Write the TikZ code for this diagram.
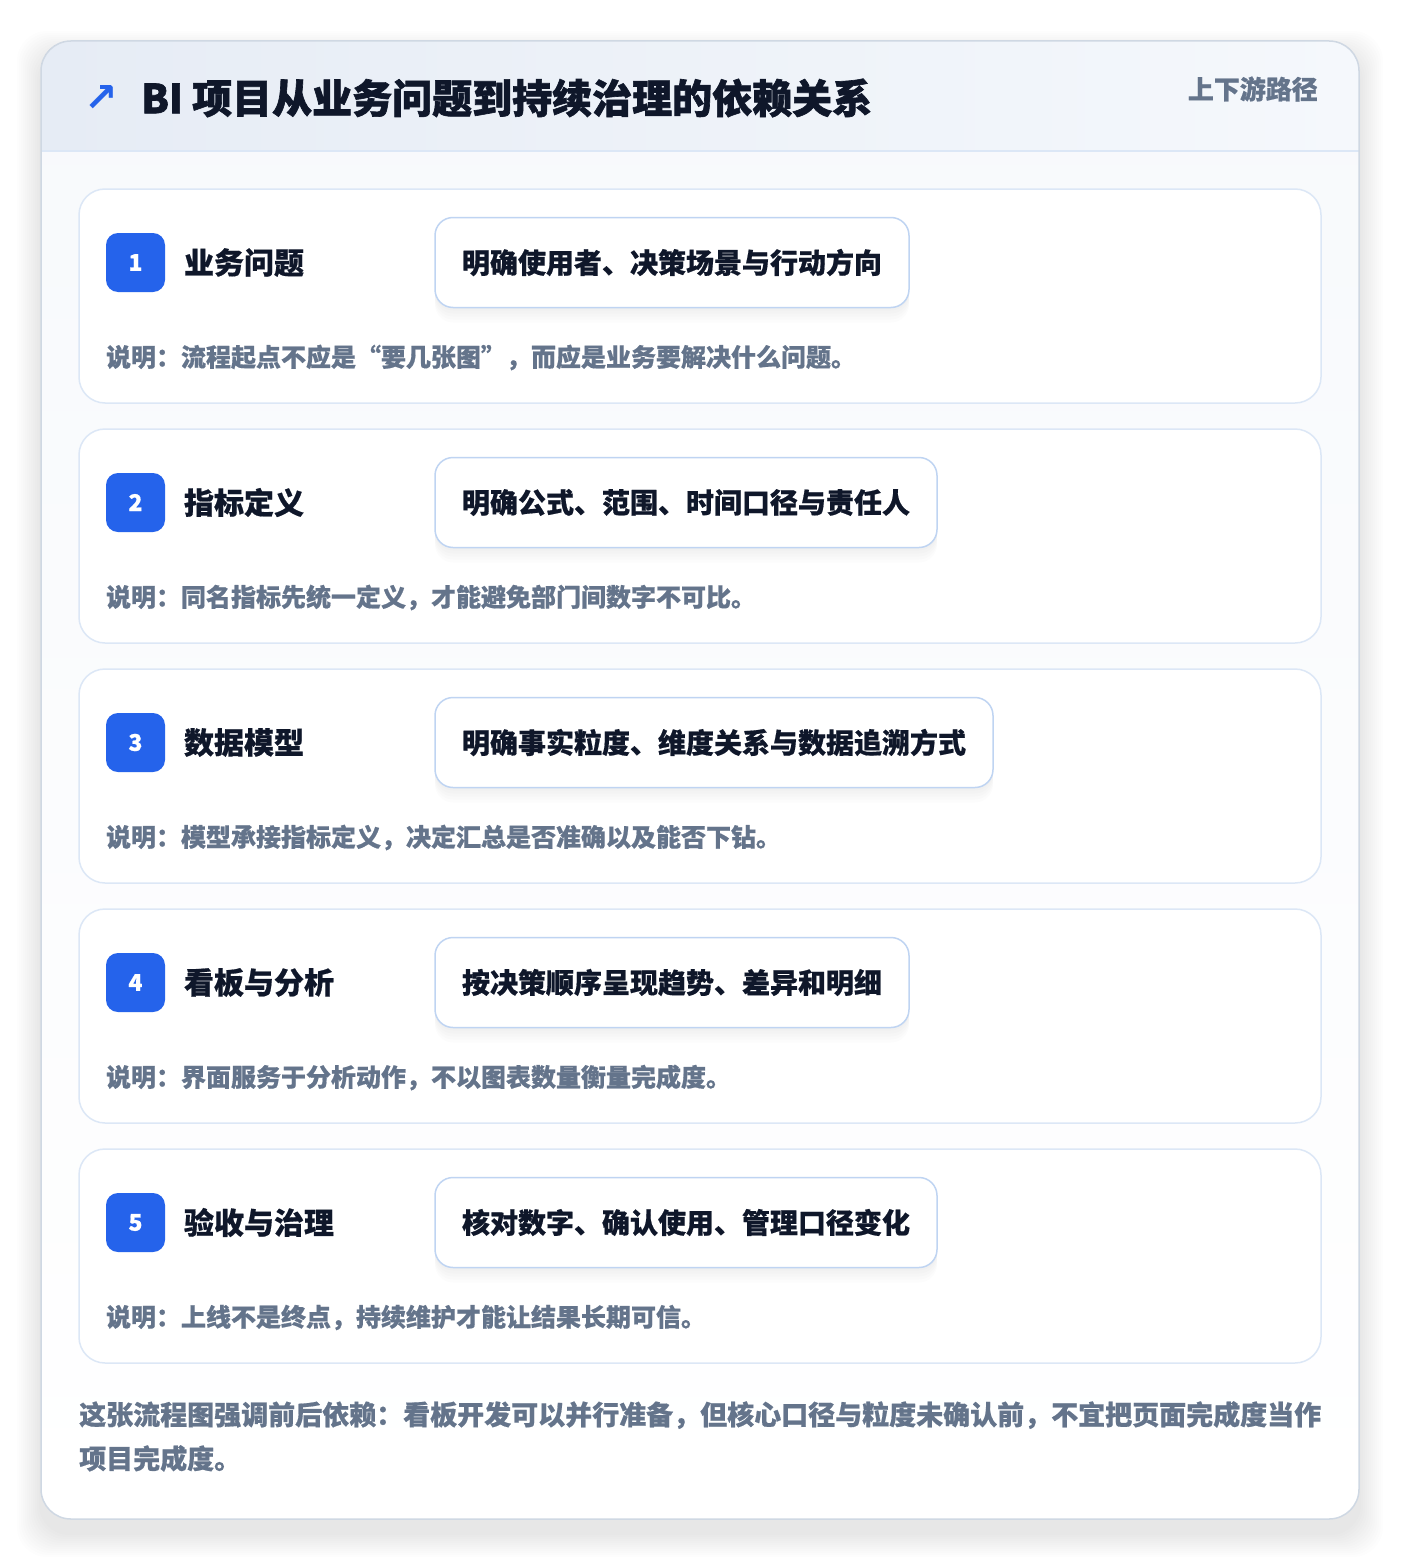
\documentclass[tikz,border=0pt]{standalone}
\usepackage{fontspec}
\setmainfont{Noto Sans CJK SC}[BoldFeatures={FakeBold=0.6}]
\newfontfamily\headfont{Noto Sans CJK SC}[BoldFeatures={FakeBold=1.6}]
\newfontfamily\symfont{DejaVu Sans}
\usetikzlibrary{positioning, calc}
\definecolor{stepblue}{HTML}{2563EB}
\definecolor{ink}{HTML}{0F172A}
\definecolor{muted}{HTML}{64748B}
\definecolor{cardline}{HTML}{DCE7F6}
\definecolor{pillline}{HTML}{BFD4F2}
\definecolor{frameline}{HTML}{CFD8E3}
\definecolor{headleft}{HTML}{E6ECF5}
\definecolor{headright}{HTML}{F5F8FC}
\definecolor{bodytop}{HTML}{F7F9FC}
\tikzset{
  step card/.style={draw=cardline, line width=1.5pt, fill=white, rounded corners=26pt,
    minimum width=1242pt, minimum height=214pt, outer sep=0pt},
  badge/.style={fill=stepblue, rounded corners=12pt, minimum size=59pt, inner sep=0pt,
    outer sep=0pt, text=white, font=\fontsize{23}{26}\selectfont\bfseries},
  step title/.style={inner sep=0pt, outer sep=0pt, text=ink,
    font=\fontsize{30}{36}\selectfont\bfseries},
  soft shade/.style={preaction={fill=black, opacity=0.012, transform canvas={yshift=-#1}}},
  pill/.style={draw=pillline, line width=1.5pt, fill=white, rounded corners=18pt,
    minimum height=90pt, inner xsep=27pt, inner ysep=0pt, outer sep=0pt, text=ink,
    font=\fontsize{28}{34}\selectfont\bfseries,
    soft shade=3pt, soft shade=6pt, soft shade=9pt, soft shade=12pt, soft shade=15pt},
  note/.style={inner sep=0pt, outer sep=0pt, text=muted, anchor=west,
    font=\fontsize{25}{30}\selectfont\bfseries},
}
\begin{document}
\begin{tikzpicture}[x=1pt, y=-1pt]
  \useasboundingbox (0,0) rectangle (1400,1560);
  \fill[white] (0,0) rectangle (1400,1560);
  % Soft shadow of the frame
  \foreach \s in {2,4,...,24}
    \fill[black, opacity=0.006, rounded corners=30pt] (41-\s,55-\s) rectangle (1359+\s,1533+\s);
  % Frame
  \fill[top color=bodytop, bottom color=white, rounded corners=30pt] (41,41) rectangle (1359,1519);
  \begin{scope}
    \clip[rounded corners=30pt] (41,41) rectangle (1359,1519);
    \fill[left color=headleft, right color=headright] (41,41) rectangle (1359,151);
  \end{scope}
  \draw[cardline, line width=1.5pt] (41,151) -- (1359,151);
  \draw[frameline, line width=1.5pt, rounded corners=30pt] (41,41) rectangle (1359,1519);
  % Header
  \node[inner sep=0pt, text=stepblue, font=\symfont\bfseries\fontsize{40}{40}\selectfont] (icon) at (101,99) {↗};
  \node[inner sep=0pt, anchor=west, text=ink, font=\headfont\fontsize{40}{46}\selectfont\bfseries] (heading) at (141,98)
    {BI 项目从业务问题到持续治理的依赖关系};
  \node[inner sep=0pt, anchor=east, text=muted, font=\fontsize{26}{30}\selectfont\bfseries] (tag) at (1318,89)
    {上下游路径};
  % Step 1
  \node[step card] (c1) at (700,296) {};
  \node[badge, below right=44pt and 27pt of c1.north west] (b1) {1};
  \node[step title, right=19pt of b1] (t1) {业务问题};
  \node[pill, right=270pt of b1] (p1) {明确使用者、决策场景与行动方向};
  \node[note] (n1) at ($(b1.west)+(0,95)$) {说明：流程起点不应是“要几张图”，而应是业务要解决什么问题。};
  % Step 2
  \node[step card] (c2) at (700,536) {};
  \node[badge, below right=44pt and 27pt of c2.north west] (b2) {2};
  \node[step title, right=19pt of b2] (t2) {指标定义};
  \node[pill, right=270pt of b2] (p2) {明确公式、范围、时间口径与责任人};
  \node[note] (n2) at ($(b2.west)+(0,95)$) {说明：同名指标先统一定义，才能避免部门间数字不可比。};
  % Step 3
  \node[step card] (c3) at (700,776) {};
  \node[badge, below right=44pt and 27pt of c3.north west] (b3) {3};
  \node[step title, right=19pt of b3] (t3) {数据模型};
  \node[pill, right=270pt of b3] (p3) {明确事实粒度、维度关系与数据追溯方式};
  \node[note] (n3) at ($(b3.west)+(0,95)$) {说明：模型承接指标定义，决定汇总是否准确以及能否下钻。};
  % Step 4
  \node[step card] (c4) at (700,1016) {};
  \node[badge, below right=44pt and 27pt of c4.north west] (b4) {4};
  \node[step title, right=19pt of b4] (t4) {看板与分析};
  \node[pill, right=270pt of b4] (p4) {按决策顺序呈现趋势、差异和明细};
  \node[note] (n4) at ($(b4.west)+(0,95)$) {说明：界面服务于分析动作，不以图表数量衡量完成度。};
  % Step 5
  \node[step card] (c5) at (700,1256) {};
  \node[badge, below right=44pt and 27pt of c5.north west] (b5) {5};
  \node[step title, right=19pt of b5] (t5) {验收与治理};
  \node[pill, right=270pt of b5] (p5) {核对数字、确认使用、管理口径变化};
  \node[note] (n5) at ($(b5.west)+(0,95)$) {说明：上线不是终点，持续维护才能让结果长期可信。};
  % Closing remark
  \node[inner sep=0pt, anchor=north west, align=left, text=muted,
    font=\fontsize{27}{41}\selectfont\bfseries] (remark) at (79,1401)
    {这张流程图强调前后依赖：看板开发可以并行准备，但核心口径与粒度未确认前，不宜把页面完成度当作\\[3pt]项目完成度。};
\end{tikzpicture}
\end{document}
